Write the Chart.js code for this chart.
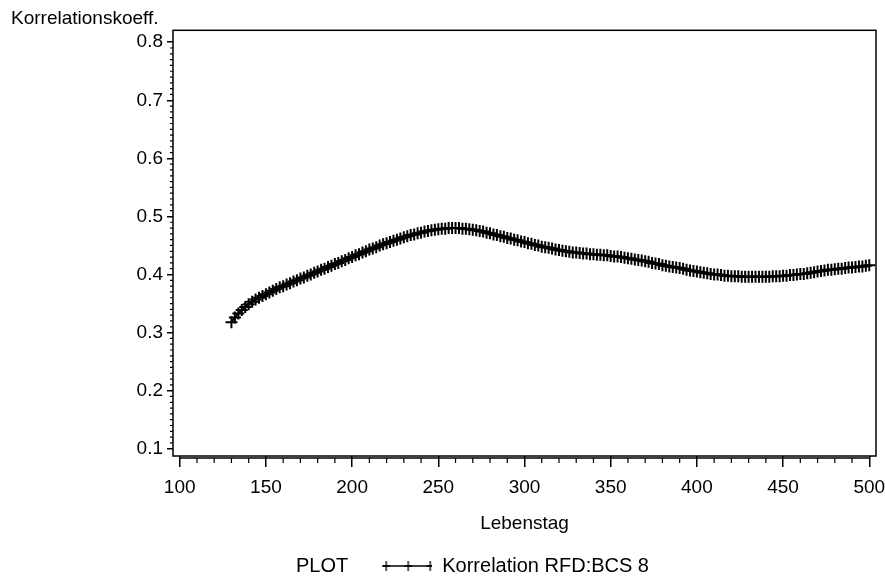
<!DOCTYPE html>
<html>
<head>
<meta charset="utf-8">
<script src="https://cdn.jsdelivr.net/npm/chart.js@4/dist/chart.umd.min.js"></script>
<style>
  html, body { margin: 0; padding: 0; background: #fff; }
  canvas { display: block; }
</style>
</head>
<body>
<canvas id="plot" width="885" height="577"></canvas>
<script>
// Lebenstag (age in days) and the correlation RFD:BCS 8 at that day
const tage = [
  130,132,134,136,138,140,142,144,146,148,150,152,154,156,158,160,162,164,166,168,
  170,172,174,176,178,180,182,184,186,188,190,192,194,196,198,200,202,204,206,208,
  210,212,214,216,218,220,222,224,226,228,230,232,234,236,238,240,242,244,246,248,
  250,252,254,256,258,260,262,264,266,268,270,272,274,276,278,280,282,284,286,288,
  290,292,294,296,298,300,302,304,306,308,310,312,314,316,318,320,322,324,326,328,
  330,332,334,336,338,340,342,344,346,348,350,352,354,356,358,360,362,364,366,368,
  370,372,374,376,378,380,382,384,386,388,390,392,394,396,398,400,402,404,406,408,
  410,412,414,416,418,420,422,424,426,428,430,432,434,436,438,440,442,444,446,448,
  450,452,454,456,458,460,462,464,466,468,470,472,474,476,478,480,482,484,486,488,
  490,492,494,496,498,500
];
const korrelation = [
  0.318,0.326,0.333,0.339,0.344,0.349,0.353,0.357,0.360,0.363,0.366,0.369,0.372,0.375,0.378,0.380,0.383,0.385,0.388,0.390,
  0.393,0.395,0.398,0.400,0.403,0.405,0.408,0.410,0.413,0.415,0.418,0.420,0.423,0.425,0.428,0.430,0.433,0.435,0.438,0.440,
  0.443,0.445,0.447,0.450,0.452,0.454,0.456,0.458,0.460,0.462,0.464,0.466,0.468,0.469,0.471,0.472,0.474,0.475,0.476,0.477,
  0.478,0.479,0.479,0.480,0.480,0.480,0.480,0.479,0.479,0.478,0.477,0.476,0.475,0.474,0.472,0.471,0.469,0.468,0.466,0.465,
  0.463,0.462,0.460,0.459,0.457,0.456,0.454,0.453,0.451,0.450,0.448,0.447,0.446,0.445,0.443,0.442,0.441,0.440,0.439,0.438,
  0.438,0.437,0.436,0.436,0.435,0.435,0.434,0.434,0.433,0.433,0.432,0.431,0.431,0.430,0.429,0.428,0.427,0.426,0.425,0.424,
  0.423,0.422,0.420,0.419,0.418,0.416,0.415,0.414,0.413,0.412,0.411,0.410,0.408,0.407,0.406,0.405,0.404,0.403,0.402,0.401,
  0.400,0.400,0.399,0.398,0.398,0.397,0.397,0.397,0.396,0.396,0.396,0.396,0.396,0.396,0.396,0.396,0.396,0.397,0.397,0.397,
  0.398,0.398,0.399,0.399,0.400,0.401,0.401,0.402,0.403,0.404,0.405,0.406,0.407,0.408,0.408,0.409,0.410,0.410,0.411,0.412,
  0.412,0.413,0.414,0.414,0.415,0.416
];
const xTickWerte = [100, 150, 200, 250, 300, 350, 400, 450, 500];
const yTickWerte = [0.1, 0.2, 0.3, 0.4, 0.5, 0.6, 0.7, 0.8];
const serienName = 'Korrelation RFD:BCS 8';
const legendenKopf = 'PLOT';

const FONT = 'Liberation Sans, Arial, sans-serif';
const INK = '#000';
const SWATCH_W = 74;

// legend swatch: a short line carrying three plus markers, right-aligned in its box
function makeSwatch() {
  const c = document.createElement('canvas');
  c.width = SWATCH_W; c.height = 12;
  const g = c.getContext('2d');
  g.strokeStyle = INK; g.lineWidth = 1.3;
  g.beginPath(); g.moveTo(SWATCH_W - 50, 6); g.lineTo(SWATCH_W, 6); g.stroke();
  [SWATCH_W - 46, SWATCH_W - 24, SWATCH_W - 2].forEach(px => {
    g.beginPath(); g.moveTo(px, 1); g.lineTo(px, 11); g.moveTo(px - 4, 6); g.lineTo(px + 4, 6); g.stroke();
  });
  return c;
}
function makeBlank() {
  const c = document.createElement('canvas');
  c.width = 1; c.height = 1;
  return c;
}

// frame around the plot area, offset x axis line and minor ticks
const rahmenPlugin = {
  id: 'rahmen',
  afterLayout(chart) {
    // the legend row sits a little left of the canvas centre
    const lg = chart.legend;
    if (lg) { lg.left -= 13; lg.right -= 13; }
  },
  afterDraw(chart) {
    const { ctx, chartArea: a, scales: { x, y } } = chart;
    ctx.save();
    ctx.strokeStyle = INK;
    ctx.lineWidth = 1.5;
    ctx.strokeRect(a.left, a.top, a.right - a.left, a.bottom - a.top);

    const axisY = a.bottom + 2;
    const x0 = x.getPixelForValue(xTickWerte[0]);
    const x1 = x.getPixelForValue(xTickWerte[xTickWerte.length - 1]);
    ctx.beginPath(); ctx.moveTo(x0, axisY); ctx.lineTo(x1, axisY); ctx.stroke();

    ctx.lineWidth = 1.2;
    ctx.beginPath();
    for (let i = 0; i < xTickWerte.length - 1; i++) {
      const step = (xTickWerte[i + 1] - xTickWerte[i]) / 5;
      for (let k = 1; k < 5; k++) {
        const px = x.getPixelForValue(xTickWerte[i] + k * step);
        ctx.moveTo(px, axisY); ctx.lineTo(px, axisY + 5);
      }
    }
    for (let i = 0; i < yTickWerte.length - 1; i++) {
      const step = (yTickWerte[i + 1] - yTickWerte[i]) / 10;
      for (let k = 1; k < 10; k++) {
        const py = y.getPixelForValue(yTickWerte[i] + k * step);
        ctx.moveTo(a.left - 3, py); ctx.lineTo(a.left, py);
      }
    }
    ctx.stroke();
    ctx.restore();
  }
};

new Chart(document.getElementById('plot'), {
  type: 'line',
  data: {
    datasets: [{
      label: serienName,
      data: tage.map((t, i) => ({ x: t, y: korrelation[i] })),
      borderColor: INK,
      borderWidth: 2,
      pointStyle: 'cross',
      pointRadius: 6,
      pointBorderWidth: 2,
      pointBorderColor: INK,
      pointBackgroundColor: INK,
      tension: 0,
      fill: false
    }]
  },
  options: {
    responsive: false,
    animation: false,
    devicePixelRatio: 1,
    layout: { padding: { left: 11, right: 9, top: 0, bottom: -9 } },
    scales: {
      x: {
        type: 'linear',
        min: 96.1,
        max: 503.9,
        afterBuildTicks: s => { s.ticks = xTickWerte.map(v => ({ value: v })); },
        afterFit: s => { s.height = 90; s.paddingLeft = 0; s.paddingRight = 0; },
        border: { display: false },
        grid: { drawOnChartArea: false, drawTicks: true, tickLength: 11, color: INK, lineWidth: 1.5 },
        ticks: { color: INK, font: { family: FONT, size: 19 }, padding: 9, maxRotation: 0, autoSkip: false },
        title: { display: true, text: 'Lebenstag', color: INK, font: { family: FONT, size: 19 }, padding: { top: 0, bottom: 11 } }
      },
      y: {
        type: 'linear',
        min: 0.0875,
        max: 0.8205,
        afterBuildTicks: s => { s.ticks = yTickWerte.map(v => ({ value: v })); },
        afterFit: s => { s.width = 162; s.paddingTop = 0; s.paddingBottom = 0; },
        border: { display: false },
        grid: { drawOnChartArea: false, drawTicks: true, tickLength: 6, color: INK, lineWidth: 1.5 },
        ticks: { color: INK, font: { family: FONT, size: 19 }, padding: 4, callback: v => v.toFixed(1) }
      }
    },
    plugins: {
      title: {
        display: true,
        text: 'Korrelationskoeff.',
        align: 'start',
        color: INK,
        font: { family: FONT, size: 19, weight: 'normal' },
        padding: { top: 7.5, bottom: 0 }
      },
      legend: {
        display: true,
        position: 'bottom',
        labels: {
          color: INK,
          font: { family: FONT, size: 20 },
          usePointStyle: true,
          pointStyleWidth: SWATCH_W,
          padding: 10,
          generateLabels: () => [
            { text: legendenKopf, pointStyle: makeBlank(), fillStyle: 'transparent', strokeStyle: 'transparent', lineWidth: 0, hidden: false, datasetIndex: null },
            { text: serienName, pointStyle: makeSwatch(), fillStyle: INK, strokeStyle: INK, lineWidth: 1, hidden: false, datasetIndex: 0 }
          ]
        }
      },
      tooltip: { enabled: false }
    }
  },
  plugins: [rahmenPlugin]
});
</script>
</body>
</html>
